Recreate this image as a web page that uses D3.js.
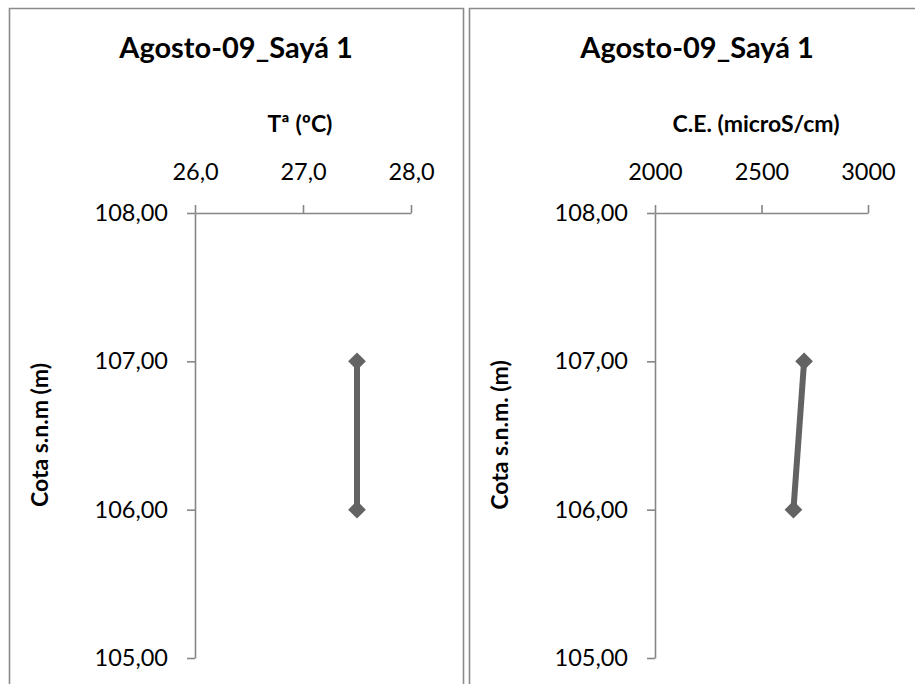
<!DOCTYPE html>
<html><head><meta charset="utf-8">
<script src="https://cdn.jsdelivr.net/npm/d3@7"></script>
<style>body{margin:0;background:#fff}svg{display:block}text{font-family:Lato,"Open Sans",sans-serif;fill:#000}</style>
</head><body>
<svg id="c" width="915" height="684"></svg>
<script>
const chartTitle = "Agosto-09_Sayá 1";
const elevations = [107.0, 106.0];
const temperature = [27.5, 27.5];
const conductivity = [2700, 2650];
const yTicks = [105, 106, 107, 108];
const tempTicks = [26, 27, 28];
const condTicks = [2000, 2500, 3000];
const xTitles = ["Tª (ºC)", "C.E. (microS/cm)"];
const yTitles = ["Cota s.n.m (m)", "Cota s.n.m. (m)"];

const loc = d3.formatLocale({decimal: ",", thousands: ".", grouping: [3], currency: ["", ""]});
const svg = d3.select("#c");

const panels = [
  {x0: 9.5, x1: 463.5, axisX: [195, 411], dom: [26, 28], ticks: tempTicks, fmt: loc.format(".1f"),
   vals: temperature, xt: xTitles[0], yt: yTitles[0], titleX: 236, xtX: 300, ytX: 48},
  {x0: 469.5, x1: 930, axisX: [655, 868], dom: [2000, 3000], ticks: condTicks, fmt: d3.format("d"),
   vals: conductivity, xt: xTitles[1], yt: yTitles[1], titleX: 697, xtX: 756, ytX: 508}
];

const y = d3.scaleLinear().domain([105, 108]).range([658, 213]);

panels.forEach(p => {
  svg.append("path")
    .attr("d", `M${p.x0},700V${8.5}H${p.x1}V700`)
    .attr("fill", "none").attr("stroke", "#8a8a8a").attr("stroke-width", 1.6);

  svg.append("text").attr("x", p.titleX).attr("y", 58).attr("text-anchor", "middle")
    .style("font-size", "29px").style("font-weight", "bold").text(chartTitle);

  svg.append("text").attr("x", p.xtX).attr("y", 132).attr("text-anchor", "middle")
    .style("font-size", "23px").style("font-weight", "bold").text(p.xt);

  svg.append("text").attr("transform", `translate(${p.ytX},435) rotate(-90)`).attr("text-anchor", "middle")
    .style("font-size", "23px").style("font-weight", "bold").text(p.yt);

  const x = d3.scaleLinear().domain(p.dom).range(p.axisX);

  const gx = svg.append("g").attr("transform", "translate(0,213)")
    .call(d3.axisTop(x).tickValues(p.ticks).tickFormat(p.fmt).tickSize(8).tickSizeOuter(0).tickPadding(25));
  const gy = svg.append("g").attr("transform", `translate(${p.axisX[0]},0)`)
    .call(d3.axisLeft(y).tickValues(yTicks).tickFormat(loc.format(".2f")).tickSize(8).tickSizeOuter(0).tickPadding(19));
  [gx, gy].forEach(g => {
    g.selectAll(".domain").attr("stroke", "#868686").attr("stroke-width", 1.6);
    g.selectAll(".tick line").attr("stroke", "#868686").attr("stroke-width", 1.6);
    g.selectAll(".tick text").style("font-size", "23.5px").style("font-family", "Lato").attr("fill", "#000");
  });

  const pts = elevations.map((e, i) => [x(p.vals[i]), y(e)]);
  svg.append("path").attr("d", d3.line()(pts)).attr("fill", "none")
    .attr("stroke", "#636363").attr("stroke-width", 6);
  svg.selectAll(null).data(pts).enter().append("path")
    .attr("transform", d => `translate(${d[0]},${d[1]})`)
    .attr("d", d3.symbol(d3.symbolDiamond2, 200)())
    .attr("fill", "#636363");
});
</script>
</body></html>
